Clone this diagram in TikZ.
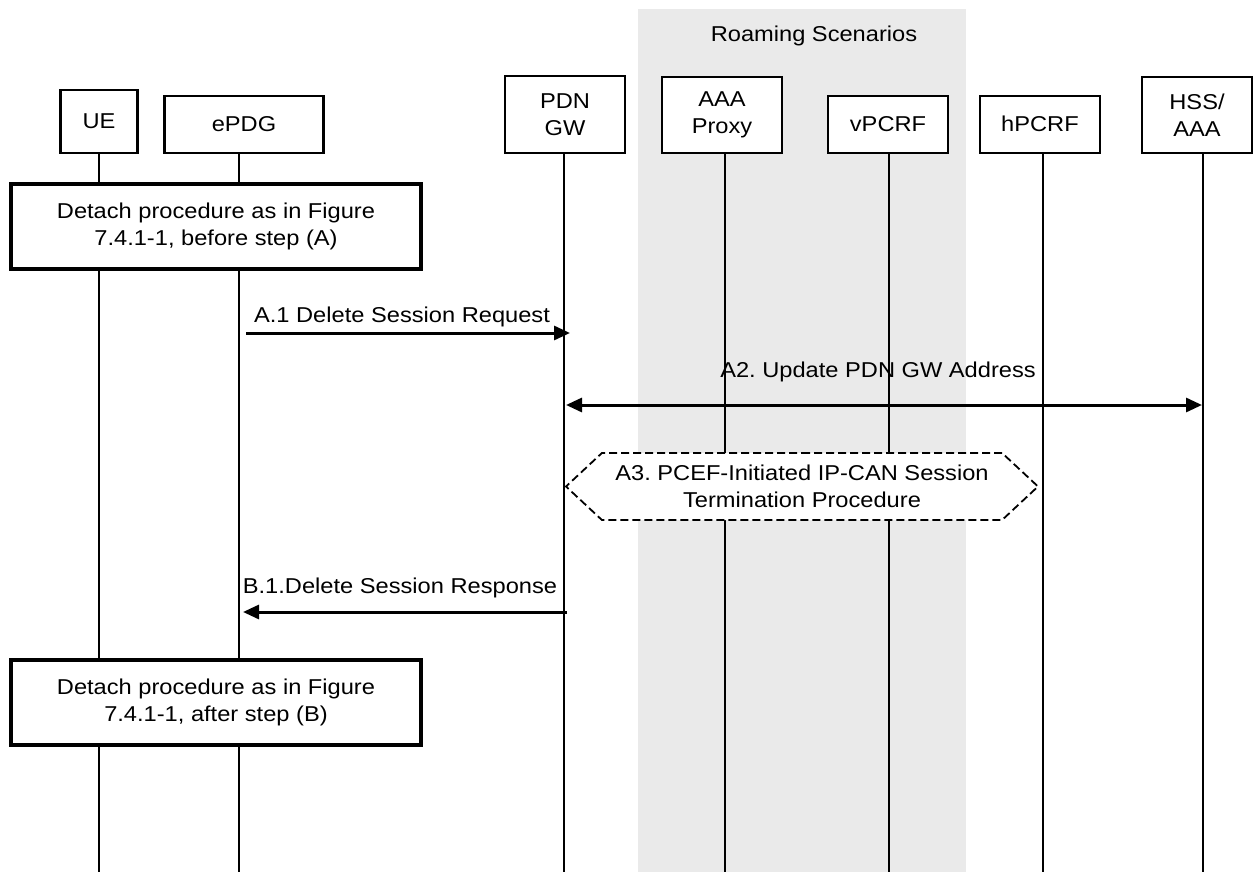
\documentclass[tikz,border=0pt]{standalone}
\usepackage{fontspec}
\setmainfont{Liberation Sans}[FakeStretch=1.1]
\usepackage{tikz}
\usetikzlibrary{arrows.meta,shapes.symbols,positioning}
\definecolor{roamgrey}{RGB}{234,234,234}
\frenchspacing

\begin{document}
\begin{tikzpicture}[x=1pt, y=-1pt,
    txt/.style={font=\fontsize{21.5}{27}\selectfont, inner sep=0pt},
    entity/.style={txt, align=center, draw, line width=2.4pt, fill=white, anchor=south},
    proc/.style={txt, align=center, draw, line width=3.5pt, fill=white, minimum width=410pt, minimum height=85pt},
    life/.style={line width=2pt},
    msg/.style={line width=3pt, -{Triangle[length=16pt,width=14pt]}},
    msgboth/.style={line width=3pt, {Triangle[length=16pt,width=14pt]}-{Triangle[length=16pt,width=14pt]}}]
    \useasboundingbox (0,0) rectangle (1254,872);
    \fill[roamgrey] (638,9) rectangle (966,872);
    \node[txt, anchor=base] (roam) at (814,42) {Roaming Scenarios};

    \node[entity, minimum width=77pt, minimum height=63pt] (ue) at (99,154) {UE};
    \node[entity, minimum width=159pt, minimum height=57pt] (epdg) at (244,154) {ePDG};
    \node[entity, minimum width=120pt, minimum height=77pt] (pdngw) at (565,154) {PDN\\GW};
    \node[entity, minimum width=120pt, minimum height=76pt] (aaap) at (722,154) {AAA\\Proxy};
    \node[entity, minimum width=120pt, minimum height=57pt] (vpcrf) at (888,154) {vPCRF};
    \node[entity, minimum width=120pt, minimum height=57pt] (hpcrf) at (1040,154) {hPCRF};
    \node[entity, minimum width=110pt, minimum height=76pt] (hss) at (1197,154) {HSS/\\AAA};
    \foreach \n/\dx in {ue/0, epdg/-5, pdngw/-1, aaap/2.5, vpcrf/1, hpcrf/3, hss/6}
        \draw[life] ([xshift=\dx pt]\n.south) -- ++(0,718);

    \node[proc] (det1) at (216,226.5) {Detach procedure as in Figure\\7.4.1-1, before step (A)};
    \node[proc] (det2) at (216,702.5) {Detach procedure as in Figure\\7.4.1-1, after step (B)};

    \coordinate (a1s) at (246,333);
    \coordinate (a1e) at (570,333);
    \draw[msg] (a1s) -- node[txt, above=4.5pt, xshift=-6pt] (a1l) {A.1 Delete Session Request} (a1e);

    \coordinate (a2s) at (566,405);
    \coordinate (a2e) at (1202,405);
    \draw[msgboth] (a2s) -- node[txt, above=21.5pt, xshift=-6pt] (a2l) {A2. Update PDN GW Address} (a2e);

    \node[txt, align=center, signal, signal to=west and east, signal pointer angle=86, draw,
        dash pattern=on 8pt off 4pt, line width=1.8pt, fill=white,
        minimum width=472pt, minimum height=67pt] (a3) at (802,486.5)
        {A3. PCEF-Initiated IP-CAN Session\\Termination Procedure};

    \coordinate (b1s) at (567,612);
    \coordinate (b1e) at (243,612);
    \draw[msg] (b1s) -- node[txt, above=13pt, xshift=-5pt] (b1l) {B.1.Delete Session Response} (b1e);
\end{tikzpicture}
\end{document}
